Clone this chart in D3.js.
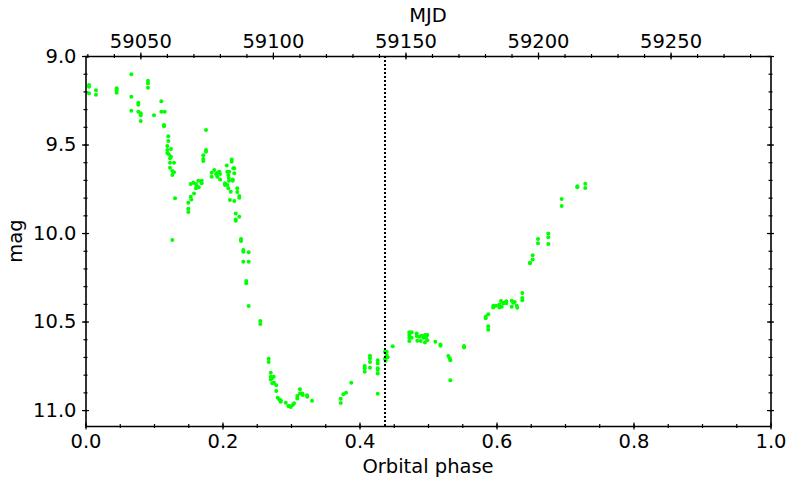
<!DOCTYPE html>
<html lang="en">
<head>
<meta charset="utf-8">
<title>Orbital phase light curve</title>
<script src="https://d3js.org/d3.v7.min.js"></script>
<style>
  body { margin: 0; background: #fff; }
  svg text { font-family: "DejaVu Sans", sans-serif; fill: #000; }
</style>
</head>
<body>
<div id="chart"></div>
<script>
var phase = [
  0.0051,0.0051,0.0051,0.0153,0.0153,0.0455,0.0455,0.0455,0.0669,0.0669,0.0669,0.0771,0.0771,0.0771,
  0.0806,0.0806,0.0806,0.0912,0.0912,0.0912,0.1000,0.1107,0.1107,0.1156,0.1146,0.1146,
  0.1209,0.1209,0.1194,0.1248,0.1194,0.1194,0.1215,0.1248,0.1234,0.1234,0.1292,0.1234,0.1267,0.1292,0.1267,0.1307,0.1267,
  0.1759,0.1759,0.1759,0.1720,0.1720,0.1720,
  0.1536,0.1574,0.1613,0.1647,0.1696,0.1696,0.1623,0.1613,0.1653,0.1584,0.1536,0.1545,0.1501,0.1501,0.1501,
  0.1842,0.1842,0.1880,0.1905,0.1930,0.1953,0.1964,0.1924,0.1964,
  0.2061,0.2134,0.2134,0.2070,0.2099,0.2158,0.2172,0.2172,0.2085,0.2091,0.2095,0.2149,0.2149,0.2036,0.2070,0.2036,
  0.2085,0.2120,0.2216,0.2216,0.2245,0.2245,0.2109,0.2172,0.2193,0.2245,0.2193,0.2193,
  0.2270,0.2270,0.2304,0.2304,0.2382,0.2304,0.2382,0.2347,0.2347,0.2382,0.2552,0.2552,
  0.2674,0.2674,0.2704,0.2704,0.2704,0.2727,0.2747,0.2727,0.2752,0.2785,0.2785,0.2806,0.2829,0.2850,0.2850,
  0.2923,0.2961,0.2996,0.2975,0.3025,0.3044,0.3092,0.3092,0.3131,0.3131,0.3165,0.3171,0.3234,0.3238,0.3307,
  0.3726,0.3726,0.3764,0.3803,0.3880,0.4076,0.4076,0.4076,0.4153,0.4153,0.4153,0.4153,
  0.4266,0.4266,0.4266,0.4266,0.4266,0.4266,0.4372,0.4372,0.4382,0.4397,0.4412,0.4397,0.4485,
  0.4727,0.4727,0.4727,0.4727,0.4762,0.4762,0.4835,0.4835,0.4844,0.4873,0.4893,0.4908,0.4931,0.4956,0.4956,
  0.4971,0.4990,0.4990,0.5107,0.5182,0.5182,0.5296,0.5317,0.5326,0.5326,0.5526,0.5526,
  0.5842,0.5842,0.5880,0.5880,0.5880,0.5953,0.5953,0.5993,0.6041,0.6041,0.6066,0.6076,0.6099,0.6114,0.6143,
  0.6143,0.6222,0.6222,0.6245,0.6266,0.6295,0.6304,0.6377,0.6377,0.6377,0.6489,0.6489,0.6528,0.6528,
  0.6606,0.6606,0.6756,0.6756,0.6756,0.6952,0.6952,0.7180,0.7180,0.7296,0.7296
];
var mag = [
  9.164,9.173,9.211,9.194,9.219,9.182,9.194,9.207,9.103,9.230,9.309,9.264,9.275,9.315,
  9.324,9.335,9.367,9.140,9.154,9.179,9.335,9.256,9.315,9.315,9.390,9.397,
  9.454,9.480,9.508,9.525,9.531,9.548,9.555,9.569,9.578,9.603,9.603,9.631,9.650,9.657,9.672,9.804,10.040,
  9.418,9.531,9.541,9.561,9.582,9.593,
  9.723,9.716,9.723,9.705,9.705,9.719,9.734,9.747,9.742,9.776,9.795,9.810,9.829,9.863,9.881,
  9.659,9.682,9.644,9.667,9.659,9.654,9.667,9.682,9.697,
  9.618,9.584,9.597,9.654,9.654,9.634,9.634,9.663,9.672,9.689,9.705,9.697,9.705,9.719,9.729,9.729,
  9.747,9.767,9.747,9.768,9.791,9.801,9.814,9.819,9.889,9.908,9.923,9.931,
  10.034,10.045,10.096,10.106,10.109,10.162,10.162,10.271,10.284,10.412,10.497,10.514,
  10.710,10.729,10.789,10.812,10.827,10.819,10.812,10.849,10.846,10.860,10.893,10.931,10.940,10.953,10.944,
  10.959,10.977,10.983,10.977,10.972,10.962,10.921,10.934,10.883,10.906,10.906,10.915,10.917,10.925,10.947,
  10.936,10.960,10.910,10.902,10.846,10.751,10.764,10.784,10.693,10.708,10.729,10.761,
  10.718,10.736,10.764,10.774,10.793,10.908,10.671,10.710,10.721,10.671,10.702,10.691,10.640,
  10.561,10.576,10.592,10.610,10.561,10.592,10.567,10.582,10.608,10.586,10.610,10.580,10.592,10.576,10.618,
  10.592,10.576,10.605,10.614,10.629,10.637,10.695,10.708,10.719,10.831,10.638,10.646,
  10.473,10.482,10.459,10.527,10.546,10.411,10.420,10.411,10.403,10.420,10.384,10.416,10.397,10.394,10.386,
  10.397,10.382,10.416,10.394,10.390,10.411,10.422,10.339,10.367,10.379,10.168,10.171,10.149,10.126,
  10.034,10.058,10.002,10.024,10.062,9.808,9.847,9.736,9.742,9.721,9.746
];

var markerPhase = 0.4372;          // dotted vertical line
var mjdRange = [59029.3, 59287.7]; // phase 0 -> 1 mapped to MJD on top axis
var magRange = [9.0, 11.09];

var phaseMajor = [0, 0.2, 0.4, 0.6, 0.8, 1.0];
var phaseMinor = d3.range(0, 1.0001, 0.05);
var mjdMajor = [59050, 59100, 59150, 59200, 59250];
var mjdMinor = d3.range(59030, 59290, 10);
var magMajor = [9.0, 9.5, 10.0, 10.5, 11.0];
var magMinor = d3.range(9.0, 11.09, 0.1);

function draw() {
  var width = 790, height = 481;
  var margin = {top: 56, right: 19.5, bottom: 55, left: 85.5};
  var innerWidth = width - margin.left - margin.right;
  var innerHeight = height - margin.top - margin.bottom;

  var svg = d3.select("#chart").append("svg")
    .attr("width", width)
    .attr("height", height);
  var g = svg.append("g").attr("transform", `translate(${margin.left},${margin.top})`);

  var x = d3.scaleLinear().domain([0, 1]).range([0, innerWidth]);
  var xTop = d3.scaleLinear().domain(mjdRange).range([0, innerWidth]);
  var y = d3.scaleLinear().domain(magRange).range([0, innerHeight]);

  var data = phase.map((p, i) => ({p: p, m: mag[i]}));

  // points
  g.append("g")
    .selectAll("circle")
    .data(data)
    .enter().append("circle")
    .attr("cx", d => x(d.p))
    .attr("cy", d => y(d.m))
    .attr("r", 2)
    .attr("fill", "#00ff00");

  // dotted line
  g.append("line")
    .attr("x1", x(markerPhase)).attr("x2", x(markerPhase))
    .attr("y1", 0).attr("y2", innerHeight)
    .attr("stroke", "#000")
    .attr("stroke-width", 2)
    .attr("stroke-dasharray", "2,2");

  function fmt1(d) { return d.toFixed(1); }

  // major + minor ticks, later moved so they cross the frame
  function axis(scale, major, minor, orient, transform, labels) {
    var ax = g.append("g").attr("transform", transform);
    ax.call(orient(scale).tickValues(major).tickSizeInner(7).tickSizeOuter(0).tickPadding(6)
      .tickFormat(labels ? labels : () => ""));
    ax.append("g").call(orient(scale).tickValues(minor).tickSize(4).tickSizeOuter(0).tickFormat(""))
      .select(".domain").remove();
    return ax;
  }

  var axBottom = axis(x, phaseMajor, phaseMinor, d3.axisBottom, `translate(0,${innerHeight})`, fmt1);
  var axTop = axis(xTop, mjdMajor, mjdMinor, d3.axisTop, "translate(0,0)", d => d);
  var axLeft = axis(y, magMajor, magMinor, d3.axisLeft, "translate(0,0)", fmt1);
  var axRight = axis(y, magMajor, magMinor, d3.axisRight, `translate(${innerWidth},0)`, null);

  [axBottom, axTop, axLeft, axRight].forEach(function(ax) {
    ax.selectAll(".domain").attr("stroke-width", 1.6);
    ax.selectAll(".tick line").attr("stroke-width", 1.2);
    ax.selectAll("text").attr("font-size", "19.5px").attr("font-family", "DejaVu Sans");
  });

  [axBottom, axTop].forEach(function(ax) {
    ax.selectAll(".tick line").each(function() {
      var l = d3.select(this), len = Math.abs(+l.attr("y2"));
      l.attr("y1", -len / 2).attr("y2", len / 2);
    });
  });
  [axLeft, axRight].forEach(function(ax) {
    ax.selectAll(".tick line").each(function() {
      var l = d3.select(this), len = Math.abs(+l.attr("x2"));
      l.attr("x1", -len / 2).attr("x2", len / 2);
    });
  });

  axBottom.selectAll("text").attr("y", 8);
  axTop.selectAll("text").attr("y", -8);
  axLeft.selectAll("text").attr("x", -9);

  // axis titles
  svg.append("text")
    .attr("x", margin.left + innerWidth / 2)
    .attr("y", 473)
    .attr("text-anchor", "middle")
    .attr("font-size", "19.5px")
    .text("Orbital phase");

  svg.append("text")
    .attr("x", margin.left + innerWidth / 2)
    .attr("y", 22)
    .attr("text-anchor", "middle")
    .attr("font-size", "19.5px")
    .text("MJD");

  svg.append("text")
    .attr("transform", "translate(22,241) rotate(-90)")
    .attr("text-anchor", "middle")
    .attr("font-size", "19.5px")
    .text("mag");
}

draw();
</script>
</body>
</html>
